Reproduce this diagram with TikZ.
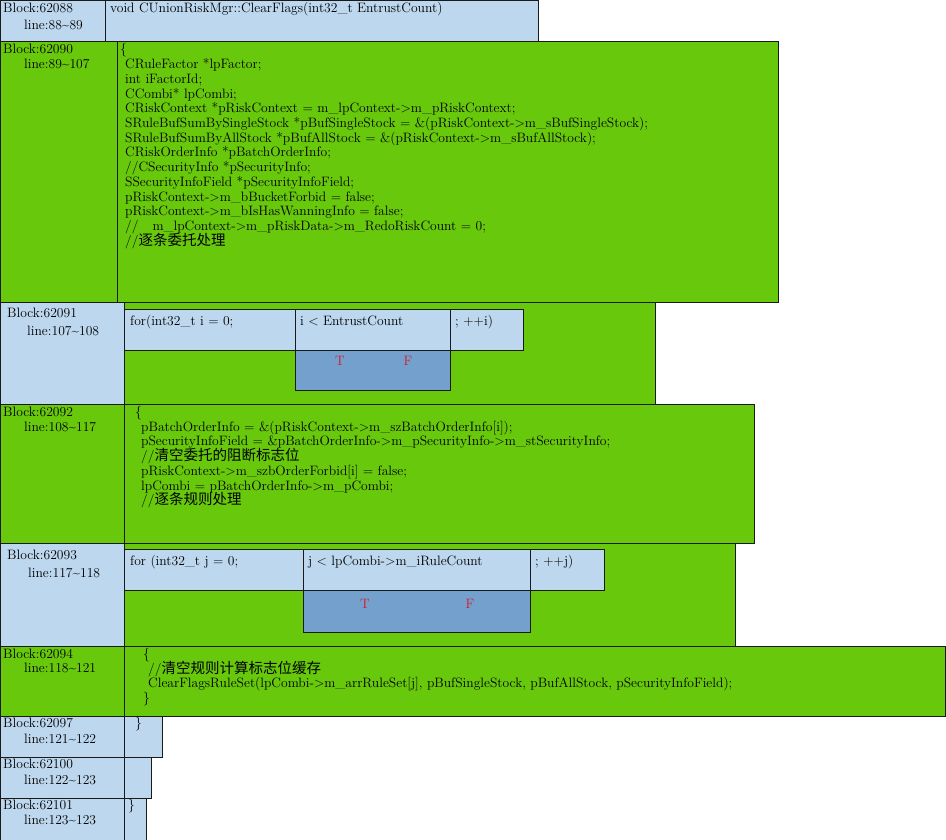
\documentclass[tikz,border=0pt]{standalone}
\usepackage{fontspec}
\newfontfamily\cjk{Noto Sans CJK SC}
\definecolor{cellblue}{RGB}{189,215,238}
\definecolor{cellgreen}{RGB}{104,200,12}
\definecolor{celldark}{RGB}{115,160,205}
\definecolor{tfred}{RGB}{215,25,35}
\definecolor{cellrule}{RGB}{25,25,25}
\newcommand\codefont{\fontsize{13.6}{14.7}\selectfont}
\newcommand\zh[1]{{\cjk\fontsize{14.5}{14.7}\selectfont #1}}
\tikzset{
  cell/.style={draw=cellrule, line width=0.8pt, anchor=north west, inner sep=0pt},
  bluecell/.style={cell, fill=cellblue},
  greencell/.style={cell, fill=cellgreen},
  darkcell/.style={cell, fill=celldark},
  txt/.style={anchor=base west, inner sep=0pt, font=\codefont},
  tf/.style={anchor=base, inner sep=0pt, text=tfred, font=\codefont},
}
\begin{document}
\begin{tikzpicture}[x=1pt,y=-1pt]
\useasboundingbox (0,0) rectangle (946,840);

% ---- block 62088 ----
\node[bluecell, minimum width=105pt, minimum height=41pt] (L88) at (0,0) {};
\node[bluecell, minimum width=433pt, minimum height=41pt] (R88) at (105,0) {};
\node[txt] (a88) at (3,13) {Block:62088};
\node[txt] (b88) at (24,29.5) {line:88\textasciitilde 89};
\node[txt] (c88) at (110,13) {void CUnionRiskMgr::ClearFlags(int32\_t EntrustCount)};

% ---- block 62090 ----
\node[greencell, minimum width=117pt, minimum height=261pt] (L90) at (0,41) {};
\node[greencell, minimum width=661pt, minimum height=261pt] (R90) at (117,41) {};
\node[txt] (a90) at (3,54) {Block:62090};
\node[txt] (b90) at (24,69) {line:89\textasciitilde 107};
\node[txt] (c90-0) at (120,54) {\{};
\foreach \ln [count=\k] in {
  {CRuleFactor *lpFactor;},
  {int iFactorId;},
  {CCombi* lpCombi;},
  {CRiskContext *pRiskContext = m\_lpContext->m\_pRiskContext;},
  {SRuleBufSumBySingleStock *pBufSingleStock = \&(pRiskContext->m\_sBufSingleStock);},
  {SRuleBufSumByAllStock *pBufAllStock = \&(pRiskContext->m\_sBufAllStock);},
  {CRiskOrderInfo *pBatchOrderInfo;},
  {//CSecurityInfo *pSecurityInfo;},
  {SSecurityInfoField *pSecurityInfoField;},
  {pRiskContext->m\_bBucketForbid = false;},
  {pRiskContext->m\_bIsHasWanningInfo = false;},
  {//\hspace{14pt}m\_lpContext->m\_pRiskData->m\_RedoRiskCount = 0;},
  {//\zh{逐条委托处理}}
}{
  \node[txt] (c90-\k) at (125,54+14.7*\k) {\ln};
}

% ---- block 62091 ----
\node[bluecell, minimum width=124pt, minimum height=102pt] (L91) at (0,302) {};
\node[greencell, minimum width=531pt, minimum height=102pt] (R91) at (124,302) {};
\node[bluecell, minimum width=171pt, minimum height=41pt] (init91) at (124,309) {};
\node[bluecell, minimum width=155pt, minimum height=41pt] (cond91) at (295,309) {};
\node[bluecell, minimum width=73pt, minimum height=41pt] (step91) at (450,309) {};
\node[darkcell, minimum width=155pt, minimum height=40pt] (br91) at (295,350) {};
\node[txt] (a91) at (7,317.5) {Block:62091};
\node[txt] (b91) at (27,335) {line:107\textasciitilde 108};
\node[txt] (c91-1) at (130,325.5) {for(int32\_t i = 0;};
\node[txt] (c91-2) at (300,325.5) {i < EntrustCount};
\node[txt] (c91-3) at (455,325.5) {; ++i)};
\node[tf] (t91) at (340,365.5) {T};
\node[tf] (f91) at (408,365.5) {F};

% ---- block 62092 ----
\node[greencell, minimum width=124pt, minimum height=139pt] (L92) at (0,404) {};
\node[greencell, minimum width=630pt, minimum height=139pt] (R92) at (124,404) {};
\node[txt] (a92) at (3,416.5) {Block:62092};
\node[txt] (b92) at (24,431.5) {line:108\textasciitilde 117};
\node[txt] (c92-0) at (135,416.5) {\{};
\foreach \ln [count=\k] in {
  {pBatchOrderInfo = \&(pRiskContext->m\_szBatchOrderInfo[i]);},
  {pSecurityInfoField = \&pBatchOrderInfo->m\_pSecurityInfo->m\_stSecurityInfo;},
  {//\zh{清空委托的阻断标志位}},
  {pRiskContext->m\_szbOrderForbid[i] = false;},
  {lpCombi = pBatchOrderInfo->m\_pCombi;},
  {//\zh{逐条规则处理}}
}{
  \node[txt] (c92-\k) at (141,416.5+14.7*\k) {\ln};
}

% ---- block 62093 ----
\node[bluecell, minimum width=124pt, minimum height=103pt] (L93) at (0,543) {};
\node[greencell, minimum width=611pt, minimum height=103pt] (R93) at (124,543) {};
\node[bluecell, minimum width=179pt, minimum height=41pt] (init93) at (124,549) {};
\node[bluecell, minimum width=227pt, minimum height=41pt] (cond93) at (303,549) {};
\node[bluecell, minimum width=74pt, minimum height=41pt] (step93) at (530,549) {};
\node[darkcell, minimum width=227pt, minimum height=42pt] (br93) at (303,590) {};
\node[txt] (a93) at (7,559.5) {Block:62093};
\node[txt] (b93) at (28,577.5) {line:117\textasciitilde 118};
\node[txt] (c93-1) at (130,565.5) {for (int32\_t j = 0;};
\node[txt] (c93-2) at (308,565.5) {j < lpCombi->m\_iRuleCount};
\node[txt] (c93-3) at (535,565.5) {; ++j)};
\node[tf] (t93) at (365,608.5) {T};
\node[tf] (f93) at (470,608.5) {F};

% ---- block 62094 ----
\node[greencell, minimum width=124pt, minimum height=70pt] (L94) at (0,646) {};
\node[greencell, minimum width=821pt, minimum height=70pt] (R94) at (124,646) {};
\node[txt] (a94) at (3,658.5) {Block:62094};
\node[txt] (b94) at (24,672.5) {line:118\textasciitilde 121};
\node[txt] (c94-0) at (143,658.5) {\{};
\node[txt] (c94-1) at (148,673.2) {//\zh{清空规则计算标志位缓存}};
\node[txt] (c94-2) at (148,687.9) {ClearFlagsRuleSet(lpCombi->m\_arrRuleSet[j], pBufSingleStock, pBufAllStock, pSecurityInfoField);};
\node[txt] (c94-3) at (143,702.6) {\}};

% ---- block 62097 ----
\node[bluecell, minimum width=124pt, minimum height=41pt] (L97) at (0,716) {};
\node[bluecell, minimum width=38pt, minimum height=41pt] (R97) at (124,716) {};
\node[txt] (a97) at (3,727.5) {Block:62097};
\node[txt] (b97) at (24,743.5) {line:121\textasciitilde 122};
\node[txt] (c97) at (135,727.5) {\}};

% ---- block 62100 ----
\node[bluecell, minimum width=124pt, minimum height=41pt] (L100) at (0,757) {};
\node[bluecell, minimum width=27pt, minimum height=41pt] (R100) at (124,757) {};
\node[txt] (a100) at (3,768.5) {Block:62100};
\node[txt] (b100) at (24,784.5) {line:122\textasciitilde 123};

% ---- block 62101 ----
\node[bluecell, minimum width=124pt, minimum height=41.5pt] (L101) at (0,798) {};
\node[bluecell, minimum width=22pt, minimum height=41.5pt] (R101) at (124,798) {};
\node[txt] (a101) at (3,809.5) {Block:62101};
\node[txt] (b101) at (24,824.5) {line:123\textasciitilde 123};
\node[txt] (c101) at (128,809.5) {\}};
\end{tikzpicture}
\end{document}
